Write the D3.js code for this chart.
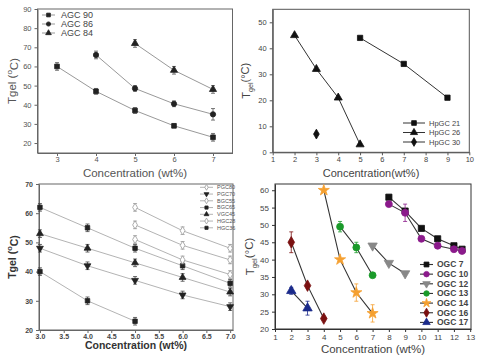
<!DOCTYPE html>
<html>
<head>
<meta charset="utf-8">
<script src="https://cdn.jsdelivr.net/npm/d3@7"></script>
<style>
body{margin:0;background:#fff;}
text{font-family:"Liberation Sans",Arial,sans-serif;}
</style>
</head>
<body>
<script>
// panel A: AGC
var agcNames = ["AGC 90","AGC 86","AGC 84"];
var agcX = [[3,4,5,6,7],[4,5,6,7],[5,6,7]];
var agcY = [[60,47,37,29,23],[66,48.5,40.5,35],[72,58,48]];
var agcErr = [[2,1.5,1.5,1,2],[2,1.5,1.5,3],[2,2,2]];

// panel B: HpGC
var hpNames = ["HpGC 21","HpGC 26","HpGC 30"];
var hpX = [[5,7,9],[2,3,4,5],[3]];
var hpY = [[44,34,21],[45,32,21,3],[7]];

// panel C: PGC/BGC/VGC/HGC
var gcNames = ["PGC80","PGC70","BGC55","BGC65","VGC45","HGC28","HGC36"];
var gcX = [[5,6,7],[3,4,5,6,7],[5,6,7],[3,4,5,6,7],[3,4,5,6,7],[5,6,7],[3,4,5]];
var gcY = [[62,54,48],[48,42,37,32,28],[56,49,44],[62,55,48,42,36],[53,48,43,38,33],[51,44,39],[40,30,23]];

// panel D: OGC
var ogcNames = ["OGC 7","OGC 10","OGC 12","OGC 13","OGC 14","OGC 16","OGC 17"];
var ogcX = [[8,9,10,11,12,12.5],[8,9,10,11,12,12.5],[7,8,9],[5,6,7],[4,5,6,7],[2,3,4],[2,3]];
var ogcY = [[58,54,49,46,44,43],[56,53.5,46,44,43,42.5],[44,39,36],[49.5,43.5,35.5],[60,40,30.5,24.5],[45,32.5,23],[31,26]];
var ogcErr = [[0,0,0,0,0,0],[0,2.5,0,0,0,0],[0,0,0],[1.5,1.5,0],[0,0,2.5,2.5],[3,0,0],[1,2]];
var ogcColors = ["#111","#8b1a8b","#888","#1a9a2a","#f5a030","#7a1010","#1a2a8a"];

var svg = d3.select("body").append("svg").attr("width",485).attr("height",364);

function sym(type, size){
    return d3.symbol().type(type).size(size)();
}

function panel(o){
    var g = svg.append("g");
    var x = d3.scaleLinear().domain(o.xd).range(o.xr);
    var y = d3.scaleLinear().domain(o.yd).range(o.yr);
    var ax = g.append("g").attr("transform","translate(0,"+o.yr[0]+")")
        .call(d3.axisBottom(x).tickValues(o.xt).tickFormat(o.xf||d3.format("d")).tickSize(3).tickPadding(o.tp||3).tickSizeOuter(0));
    var ay = g.append("g").attr("transform","translate("+o.xr[0]+",0)")
        .call(d3.axisLeft(y).tickValues(o.yt).tickSize(3).tickSizeOuter(0));
    [ax,ay].forEach(function(a){
        a.selectAll("path,line").attr("stroke",o.axc);
        a.selectAll("text").attr("fill",o.tc).attr("font-size",o.tfs).attr("font-weight",o.tfw||"normal");
    });
    g.append("rect").attr("x",o.xr[0]).attr("y",o.yr[1]).attr("width",o.xr[1]-o.xr[0]).attr("height",o.yr[0]-o.yr[1])
        .attr("fill","none").attr("stroke",o.axc).attr("stroke-width",1);
    g.append("text").attr("x",(o.xr[0]+o.xr[1])/2).attr("y",o.xly).attr("text-anchor","middle")
        .attr("font-size",o.lfs).attr("font-weight",o.lfw||"normal").attr("fill",o.lc).text(o.xlabel);
    var yl = g.append("text").attr("transform","translate("+o.ylx+","+((o.yr[0]+o.yr[1])/2)+") rotate(-90)")
        .attr("text-anchor","middle").attr("font-size",o.lfs).attr("font-weight",o.lfw||"normal").attr("fill",o.lc);
    o.ylabel(yl);

    var line = d3.line().x(function(d){return x(d[0]);}).y(function(d){return y(d[1]);});
    o.names.forEach(function(n,i){
        var pts = o.xs[i].map(function(v,j){return [v,o.ys[i][j],o.errs?o.errs[i][j]:0];});
        g.append("path").datum(pts).attr("d",line).attr("fill","none").attr("stroke",o.lineC(i)).attr("stroke-width",o.lw);
        g.selectAll(null).data(pts.filter(function(d){return d[2]>0;})).enter().append("path")
            .attr("d",function(d){
                var cx=x(d[0]),t=y(d[1]+d[2]),b=y(d[1]-d[2]);
                return "M"+cx+","+t+"V"+b+"M"+(cx-2)+","+t+"H"+(cx+2)+"M"+(cx-2)+","+b+"H"+(cx+2);
            })
            .attr("stroke",o.errC(i)).attr("stroke-width",0.8).attr("fill","none");
        g.selectAll(null).data(pts).enter().append("path")
            .attr("d",sym(o.sym[i],o.ss))
            .attr("transform",function(d){return "translate("+x(d[0])+","+y(d[1])+")"+(o.rot&&o.rot[i]?" rotate(180)":"");})
            .attr("fill",o.fill(i)).attr("stroke",o.stroke(i)).attr("stroke-width",0.8);
        // legend
        var ly = o.leg.y + i*o.leg.dy;
        g.append("line").attr("x1",o.leg.x).attr("x2",o.leg.x+o.leg.w).attr("y1",ly).attr("y2",ly)
            .attr("stroke",o.lineC(i)).attr("stroke-width",o.lw);
        g.append("path").attr("d",sym(o.sym[i],o.leg.ss))
            .attr("transform","translate("+(o.leg.x+o.leg.w/2)+","+ly+")"+(o.rot&&o.rot[i]?" rotate(180)":""))
            .attr("fill",o.fill(i)).attr("stroke",o.stroke(i)).attr("stroke-width",0.8);
        g.append("text").attr("x",o.leg.x+o.leg.w+o.leg.gap).attr("y",ly).attr("dy","0.35em")
            .attr("font-size",o.leg.fs).attr("font-weight",o.leg.fw||"normal").attr("fill",o.leg.c).text(n);
    });
}

function tgelSub(t){
    t.append("tspan").text("T");
    t.append("tspan").attr("font-size","0.65em").attr("dy","0.35em").text("gel");
    t.append("tspan").attr("dy","-0.35em").text("(°C)");
}
function tgelSup(t){
    t.append("tspan").text("Tgel (");
    t.append("tspan").attr("font-size","0.7em").attr("dy","-0.5em").text("o");
    t.append("tspan").attr("dy","0.5em").text("C)");
}

// A
panel({
    xd:[2.5,7.5], xr:[37.5,232.5], yd:[14.8,90], yr:[153,9],
    xt:[3,4,5,6,7], yt:[20,30,40,50,60,70,80,90], tp:1,
    axc:"#666", tc:"#555", tfs:"7.5px", lc:"#555", lfs:"11.5px",
    xlabel:"Concentration (wt%)", xly:177, ylx:16,
    ylabel:tgelSup,
    names:agcNames, xs:agcX, ys:agcY, errs:agcErr,
    sym:[d3.symbolSquare,d3.symbolCircle,d3.symbolTriangle], ss:22,
    lineC:function(){return "#999";}, errC:function(){return "#555";},
    fill:function(){return "#222";}, stroke:function(){return "#222";}, lw:1,
    leg:{x:42,y:15,dy:9,w:13,gap:6,ss:14,fs:"9px",c:"#444"}
});

// B
panel({
    xd:[1,10], xr:[272.7,469.3], yd:[0,55], yr:[152.3,9.3],
    xt:d3.range(1,11), yt:[0,10,20,30,40,50], tp:1,
    axc:"#555", tc:"#444", tfs:"7.5px", lc:"#444", lfs:"11px",
    xlabel:"Concentration(wt%)", xly:177, ylx:250,
    ylabel:tgelSub,
    names:hpNames, xs:hpX, ys:hpY,
    sym:[d3.symbolSquare,d3.symbolTriangle,d3.symbolDiamond], ss:28,
    lineC:function(){return "#333";}, errC:function(){return "#333";},
    fill:function(){return "#111";}, stroke:function(){return "#111";}, lw:1,
    leg:{x:403,y:123,dy:9.5,w:22,gap:4,ss:22,fs:"7.5px",c:"#444"}
});

// C
panel({
    xd:[2.98,7.06], xr:[39,233], yd:[20,70], yr:[330,184],
    xt:[3,3.5,4,4.5,5,5.5,6,6.5,7], xf:d3.format(".1f"), yt:[20,30,40,50,60,70], tp:1,
    axc:"#666", tc:"#444", tfs:"7px", tfw:"bold", lc:"#333", lfs:"10.5px", lfw:"bold",
    xlabel:"Concentration (wt%)", xly:349, ylx:16,
    ylabel:tgelSup,
    names:gcNames, xs:gcX, ys:gcY, errs:gcY.map(function(s){return s.map(function(){return 1.3;});}),
    sym:[d3.symbolDiamond,d3.symbolTriangle,d3.symbolDiamond,d3.symbolSquare,d3.symbolTriangle,d3.symbolDiamond,d3.symbolSquare], ss:20,
    rot:[0,1,0,0,0,0,0],
    lineC:function(){return "#aaa";}, errC:function(i){return [0,2,5].indexOf(i)>=0?"#999":"#444";},
    fill:function(i){return [0,2,5].indexOf(i)>=0?"#fff":"#222";},
    stroke:function(i){return [0,2,5].indexOf(i)>=0?"#999":"#222";}, lw:0.9,
    leg:{x:200,y:187.3,dy:6.75,w:13,gap:4,ss:10,fs:"5.5px",c:"#555"}
});

// D
panel({
    xd:[1,13.05], xr:[275,471], yd:[20,61.8], yr:[329,184],
    xt:d3.range(1,14), yt:[20,25,30,35,40,45,50,55,60], tp:2,
    axc:"#333", tc:"#444", tfs:"8px", lc:"#444", lfs:"11.5px",
    xlabel:"Concentration (wt%)", xly:353, ylx:254,
    ylabel:tgelSub,
    names:ogcNames, xs:ogcX, ys:ogcY, errs:ogcErr,
    sym:[d3.symbolSquare,d3.symbolCircle,d3.symbolTriangle,d3.symbolCircle,d3.symbolStar,d3.symbolDiamond,d3.symbolTriangle], ss:38,
    rot:[0,0,1,0,0,0,0],
    lineC:function(){return "#333";}, errC:function(i){return ogcColors[i];},
    fill:function(i){return ogcColors[i];}, stroke:function(i){return ogcColors[i];}, lw:1.1,
    leg:{x:420,y:264.5,dy:9.65,w:13,gap:4,ss:24,fs:"8.5px",fw:"bold",c:"#444"}
});
</script>
</body>
</html>
